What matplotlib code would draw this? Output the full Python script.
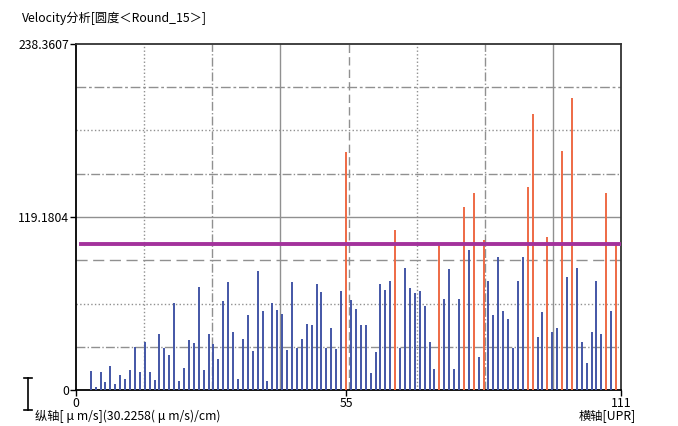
import numpy as np
import matplotlib
matplotlib.use("Agg")
import matplotlib.pyplot as plt
from matplotlib.lines import Line2D

plt.rcParams['font.family'] = ['Liberation Sans Narrow', 'Noto Sans CJK SC', 'DejaVu Sans']

# data
x_pos = list(range(3, 111))
velocity = [13.3, 2.3, 12.4, 5.7, 16.5, 4.1, 10.3, 7.6, 13.8, 29.8,
            12.4, 33.0, 12.4, 6.9, 38.4, 28.9, 24.1, 59.7, 6.4, 14.9,
            34.4, 32.4, 71.2, 13.8, 38.4, 31.5, 21.1, 61.1, 74.2, 39.7,
            7.6, 35.1, 51.5, 26.6, 82.2, 54.2, 6.4, 60.1, 55.1, 52.1,
            27.6, 74.2, 28.9, 35.1, 45.2, 44.6, 73.2, 67.3, 28.9, 42.5,
            28.0, 68.0, 164.2, 61.8, 55.6, 44.6, 44.6, 11.7, 26.2, 73.2,
            69.1, 75.3, 110.2, 28.9, 84.3, 70.0, 66.6, 68.0, 57.9, 33.1,
            14.7, 101.5, 62.7, 83.6, 14.7, 62.9, 125.9, 96.7, 135.5, 22.9,
            103.0, 75.3, 51.5, 91.6, 54.2, 48.9, 28.9, 74.9, 91.6, 140.1,
            189.9, 36.5, 53.7, 105.6, 40.0, 42.5, 164.9, 77.8, 200.9, 84.3,
            33.1, 18.6, 40.0, 75.3, 38.6, 135.5, 54.2, 101.5]
limit = 100.4
y_max = 238.3607
x_max = 111
y_ticks = [0, 119.1804, 238.3607]
y_tick_labels = ["0", "119.1804", "238.3607"]
x_ticks = [0, 55, 111]

fig = plt.figure(figsize=(6.78, 4.26), dpi=100)
ax = fig.add_axes([76/678, 1-390/426, 545/678, 346/426])

# grid with mixed line styles
v_styles = [':', '-.', '-', (0, (6, 3)), ':', '-.', '-']
h_styles = ['-.', ':', (0, (8, 4)), '-', '-.', ':', (0, (7, 2, 2, 2))]
for k in range(1, 8):
    ax.axvline(x_max*k/8, color='#909090', lw=1.0, ls=v_styles[k-1], zorder=1)
    ax.axhline(y_max*k/8, color='#909090', lw=1.0, ls=h_styles[k-1], zorder=1)

vel = np.array(velocity)
colors = np.where(vel >= limit, '#ee6a45', '#4356a6')
ax.vlines(x_pos, 0, vel, colors=colors, lw=1.4, zorder=3)
ax.plot([1, x_max], [limit, limit], color='#a3329c', lw=2.8, zorder=4)

ax.set_xlim(0, x_max)
ax.set_ylim(0, y_max)
ax.set_xticks(x_ticks)
ax.set_yticks(y_ticks)
ax.set_yticklabels(y_tick_labels)
ax.tick_params(direction='out', length=4, width=1, pad=1, labelsize=8.8, color='black')
for s in ax.spines.values():
    s.set_linewidth(1.3)
    s.set_color('#333333')
ax.spines['left'].set_color('black')
ax.spines['bottom'].set_color('black')

fig.text(22/678, 1-18/426, "Velocity分析[圆度＜Round_15＞]", fontsize=8.8, va='center', ha='left')
fig.text(35/678, 1-416/426, "纵轴[ μ m/s](30.2258( μ m/s)/cm)", fontsize=8.8, va='center', ha='left')
fig.text(636/678, 1-416/426, "横轴[UPR]", fontsize=8.8, va='center', ha='right')

# small scale bar at the bottom left
sx = 28/678
fig.add_artist(Line2D([sx, sx], [1-378/426, 1-410/426], color='black', lw=1.2))
fig.add_artist(Line2D([sx-4/678, sx+4/678], [1-378/426, 1-378/426], color='black', lw=1.2))
fig.add_artist(Line2D([sx-4/678, sx+4/678], [1-410/426, 1-410/426], color='black', lw=1.2))

fig.savefig("out.png", dpi=100)
